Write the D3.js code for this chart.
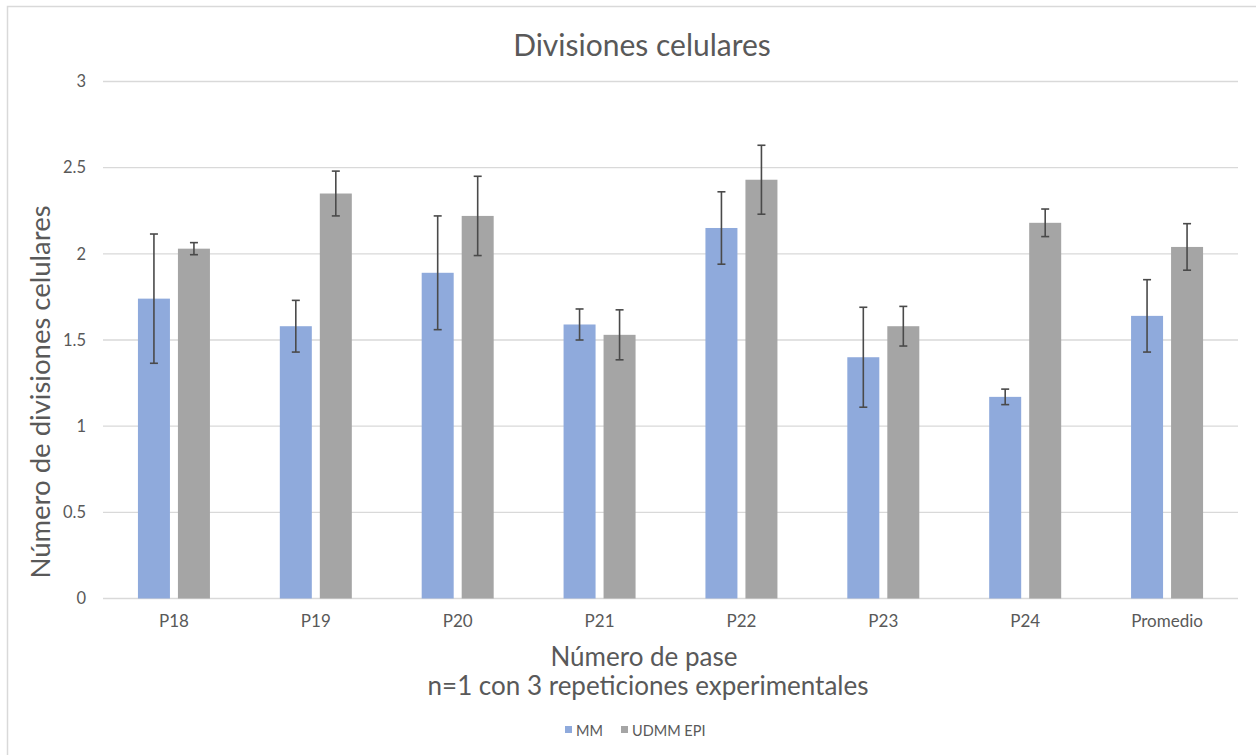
<!DOCTYPE html>
<html><head><meta charset="utf-8">
<script src="https://cdn.jsdelivr.net/npm/d3@7"></script>
<style>html,body{margin:0;padding:0;background:#fff;}svg{display:block;}</style>
</head><body>
<svg id="chart" width="1256" height="755"></svg>
<script>
const categories = ["P18","P19","P20","P21","P22","P23","P24","Promedio"];
const seriesNames = ["MM","UDMM EPI"];
const mmValues = [1.74, 1.58, 1.89, 1.59, 2.15, 1.40, 1.17, 1.64];
const udmmValues = [2.03, 2.35, 2.22, 1.53, 2.43, 1.58, 2.18, 2.04];
const mmErrors = [0.375, 0.15, 0.33, 0.09, 0.21, 0.29, 0.045, 0.21];
const udmmErrors = [0.035, 0.13, 0.23, 0.145, 0.20, 0.115, 0.08, 0.135];
const yTicks = [0, 0.5, 1, 1.5, 2, 2.5, 3];
const colors = ["#8faadc", "#a5a5a5"];

const FONT = "Lato, 'Open Sans', sans-serif";
const TXT = "#595959";
const svg = d3.select("#chart");

svg.append("rect").attr("x",7.5).attr("y",6.5).attr("width",1262).attr("height",762)
  .attr("fill","#fff").attr("stroke","#d9d9d9").attr("stroke-width",1.5);

const x0 = d3.scaleBand().domain(categories).range([103, 1238]).padding(0);
const x1 = d3.scaleBand().domain(seriesNames)
  .range([x0.bandwidth()/2 - 36, x0.bandwidth()/2 + 36]).paddingInner(0.2);
const y = d3.scaleLinear().domain([0, 3]).range([598.5, 81.5]);

// gridlines
svg.append("g").selectAll("line").data(yTicks).join("line")
  .attr("x1", 103).attr("x2", 1238)
  .attr("y1", d => y(d)).attr("y2", d => y(d))
  .attr("stroke", "#d9d9d9").attr("stroke-width", 1.3);

// y tick labels
svg.append("g").selectAll("text").data(yTicks).join("text")
  .attr("x", 86).attr("y", d => y(d)).attr("dy", "0.35em")
  .attr("text-anchor", "end").attr("font-family", FONT).attr("font-size", 16.5)
  .attr("fill", TXT).text(d => d3.format("")(d));

// x tick labels
svg.append("g").selectAll("text").data(categories).join("text")
  .attr("x", d => x0(d) + x0.bandwidth()/2).attr("y", 627)
  .attr("text-anchor", "middle").attr("font-family", FONT).attr("font-size", 17)
  .attr("fill", TXT).text(d => d);

const data = categories.map((c, i) => ({
  cat: c,
  vals: [
    {s: seriesNames[0], v: mmValues[i], e: mmErrors[i], c: colors[0]},
    {s: seriesNames[1], v: udmmValues[i], e: udmmErrors[i], c: colors[1]}
  ]
}));

const groups = svg.append("g").selectAll("g").data(data).join("g")
  .attr("transform", d => `translate(${x0(d.cat)},0)`);

groups.selectAll("rect").data(d => d.vals).join("rect")
  .attr("x", d => x1(d.s)).attr("width", x1.bandwidth())
  .attr("y", d => y(d.v)).attr("height", d => y(0) - y(d.v))
  .attr("fill", d => d.c);

const eb = groups.selectAll("g.err").data(d => d.vals).join("g").attr("class","err")
  .attr("stroke", "#4a4a4a").attr("stroke-width", 1.6);
eb.append("line")
  .attr("x1", d => x1(d.s) + x1.bandwidth()/2).attr("x2", d => x1(d.s) + x1.bandwidth()/2)
  .attr("y1", d => y(d.v + d.e)).attr("y2", d => y(d.v - d.e));
eb.append("line")
  .attr("x1", d => x1(d.s) + x1.bandwidth()/2 - 4).attr("x2", d => x1(d.s) + x1.bandwidth()/2 + 4)
  .attr("y1", d => y(d.v + d.e)).attr("y2", d => y(d.v + d.e));
eb.append("line")
  .attr("x1", d => x1(d.s) + x1.bandwidth()/2 - 4).attr("x2", d => x1(d.s) + x1.bandwidth()/2 + 4)
  .attr("y1", d => y(d.v - d.e)).attr("y2", d => y(d.v - d.e));

// titles
svg.append("text").attr("x", 642).attr("y", 56).attr("text-anchor","middle")
  .attr("font-family", FONT).attr("font-size", 30).attr("fill", TXT).text("Divisiones celulares");
svg.append("text").attr("transform","translate(50,392) rotate(-90)").attr("text-anchor","middle")
  .attr("font-family", FONT).attr("font-size", 27.5).attr("fill", TXT).text("Número de divisiones celulares");
svg.append("text").attr("x", 644).attr("y", 666).attr("text-anchor","middle")
  .attr("font-family", FONT).attr("font-size", 26).attr("fill", TXT).text("Número de pase");
svg.append("text").attr("x", 648).attr("y", 695).attr("text-anchor","middle")
  .attr("font-family", FONT).attr("font-size", 26).attr("fill", TXT).text("n=1 con 3 repeticiones experimentales");

// legend
const legend = svg.append("g").attr("transform","translate(565,0)");
const lx = [0, 56];
seriesNames.forEach((s, i) => {
  legend.append("rect").attr("x", lx[i]).attr("y", 726).attr("width", 7).attr("height", 7).attr("fill", colors[i]);
  legend.append("text").attr("x", lx[i] + 11).attr("y", 735.5).attr("font-family", FONT)
    .attr("font-size", 14.5).attr("fill", TXT).text(s);
});
</script>
</body></html>
